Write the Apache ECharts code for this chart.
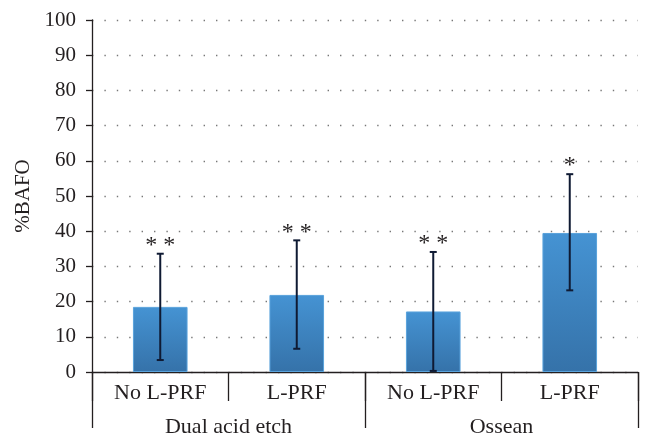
<!DOCTYPE html>
<html>
<head>
<meta charset="utf-8">
<script src="https://cdn.jsdelivr.net/npm/echarts@6/dist/echarts.min.js"></script>
<style>html,body{margin:0;padding:0;background:#fff;}#c{width:653px;height:448px;}</style>
</head>
<body>
<div id="c"></div>
<script>
var categories = ["No L-PRF", "L-PRF", "No L-PRF", "L-PRF"];
var groups = ["Dual acid etch", "Ossean"];
var means = [18.5, 21.9, 17.2, 39.5];
var errLow = [3.4, 6.6, 0.3, 23.2];
var errHigh = [33.6, 37.4, 34.1, 56.2];
var stars = ["**", "**", "**", "*"];
var yTicks = [0, 10, 20, 30, 40, 50, 60, 70, 80, 90, 100];

var FONT = "Liberation Serif";
var TXT = "#231f20";
var chart = echarts.init(document.getElementById('c'));
var errData = categories.map(function (c, i) { return [i, errLow[i], errHigh[i], stars[i]]; });

chart.setOption({
  animation: false,
  grid: { left: 92, right: 15, top: 20, bottom: 76 },
  xAxis: [{
    type: 'category', data: categories, position: 'bottom',
    axisLine: { show: true, lineStyle: { color: TXT, width: 1.3 } },
    axisTick: { show: true, length: 29, alignWithLabel: false, lineStyle: { color: TXT, width: 1.3 } },
    axisLabel: { color: TXT, fontFamily: FONT, fontSize: 22, margin: 10 }
  }, {
    type: 'category', data: groups, position: 'bottom', gridIndex: 0,
    axisLine: { show: false },
    axisTick: { show: true, length: 56, lineStyle: { color: TXT, width: 1.3 } },
    axisLabel: { color: TXT, fontFamily: FONT, fontSize: 22, margin: 44 }
  }],
  yAxis: {
    type: 'value', min: 0, max: 100, interval: 10,
    name: '%BAFO', nameLocation: 'middle', nameGap: 58, nameRotate: 90,
    nameTextStyle: { color: TXT, fontFamily: FONT, fontSize: 21 },
    axisLine: { show: true, lineStyle: { color: TXT, width: 1.3 } },
    axisTick: { show: true, length: 6, lineStyle: { color: TXT, width: 1.3 } },
    axisLabel: {
      color: TXT, fontFamily: FONT, fontSize: 21, margin: 16,
      formatter: function (v) { return yTicks.indexOf(v) >= 0 ? String(v) : ''; }
    },
    splitLine: { show: true, lineStyle: { color: '#777', width: 1.4, type: [1.4, 11] } }
  },
  series: [{
    type: 'bar', data: means, barWidth: '40%', xAxisIndex: 0,
    itemStyle: {
      color: new echarts.graphic.LinearGradient(0, 0, 0, 1, [
        { offset: 0, color: '#4593d3' },
        { offset: 1, color: '#3572a9' }
      ]),
      borderColor: '#5aa3dc', borderWidth: 1
    }
  }, {
    type: 'custom', xAxisIndex: 0, data: errData, z: 5,
    renderItem: function (params, api) {
      var x = api.coord([api.value(0), 0])[0];
      var lo = api.coord([api.value(0), api.value(1)])[1];
      var hi = api.coord([api.value(0), api.value(2)])[1];
      var s = { stroke: '#0f1a33', lineWidth: 2 };
      var star = errData[params.dataIndex][3];
      return {
        type: 'group', children: [
          { type: 'line', shape: { x1: x, y1: lo, x2: x, y2: hi }, style: s },
          { type: 'line', shape: { x1: x - 3.5, y1: lo, x2: x + 3.5, y2: lo }, style: s },
          { type: 'line', shape: { x1: x - 3.5, y1: hi, x2: x + 3.5, y2: hi }, style: s },
          { type: 'text', x: x, y: hi - 8, style: {
              text: star.split('').join(' '), fill: TXT, font: '24px "' + FONT + '"',
              textAlign: 'center', textVerticalAlign: 'middle' } }
        ]
      };
    }
  }]
});
</script>
</body>
</html>
